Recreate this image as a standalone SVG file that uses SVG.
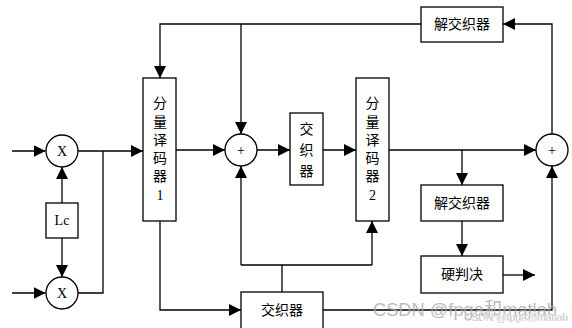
<svg xmlns="http://www.w3.org/2000/svg" width="572" height="328" viewBox="0 0 572 328">
<style>
.b{fill:#fff;stroke:#000;stroke-width:1.3}
.l{fill:none;stroke:#000;stroke-width:1.3}
.a{marker-end:url(#ah)}
.t{font-family:"Liberation Serif","Noto Sans CJK SC",serif;font-size:14px;fill:#000;text-anchor:middle;dominant-baseline:central}
.wm{font-family:"Liberation Sans","Noto Sans CJK SC",sans-serif;fill:#aaa}
</style>
<defs>
<marker id="ah" markerUnits="userSpaceOnUse" markerWidth="12" markerHeight="12" refX="12" refY="6" orient="auto">
<path d="M0,0 L12,6 L0,12 z" fill="#000"/>
</marker>
</defs>
<rect width="572" height="328" fill="#fff"/>
<g id="connectors">
<line class="l a" x1="12" y1="151" x2="45.5" y2="151"/>
<line class="l a" x1="12" y1="293" x2="45.5" y2="293"/>
<line class="l a" x1="62" y1="203" x2="62" y2="167"/>
<line class="l a" x1="62" y1="238" x2="62" y2="277"/>
<line class="l a" x1="78" y1="151" x2="143" y2="151"/>
<polyline class="l" points="78,293 103,293 103,151"/>
<line class="l a" x1="176" y1="150" x2="225" y2="150"/>
<line class="l a" x1="257" y1="150" x2="290" y2="150"/>
<line class="l a" x1="323" y1="150" x2="356" y2="150"/>
<line class="l a" x1="389" y1="150" x2="536" y2="150"/>
<line class="l a" x1="462" y1="150" x2="462" y2="185"/>
<line class="l a" x1="462" y1="221" x2="462" y2="256"/>
<line class="l a" x1="503" y1="275" x2="535" y2="275"/>
<polyline class="l a" points="552,134 552,24 503,24"/>
<polyline class="l a" points="421,24 160,24 160,78"/>
<line class="l a" x1="241" y1="24" x2="241" y2="134"/>
<polyline class="l a" points="160,221 160,310 241,310"/>
<line class="l" x1="282" y1="292" x2="282" y2="265"/>
<line class="l" x1="241" y1="265" x2="372" y2="265"/>
<line class="l a" x1="241" y1="265" x2="241" y2="166"/>
<line class="l a" x1="372" y1="265" x2="372" y2="221"/>
<polyline class="l a" points="323,310 552,310 552,166"/>
</g>
<g id="mul1"><circle class="b" cx="62" cy="151" r="16"/><text class="t" x="62" y="151" font-size="12">X</text></g>
<g id="mul2"><circle class="b" cx="62" cy="293" r="16"/><text class="t" x="62" y="293" font-size="12">X</text></g>
<g id="lc"><rect class="b" x="46" y="203" width="32" height="35"/><text class="t" x="62" y="220.5">Lc</text></g>
<g id="dec1"><rect class="b" x="143" y="78" width="33" height="143"/>
<text class="t" x="160" y="103.5">分</text><text class="t" x="160" y="122">量</text><text class="t" x="160" y="140">译</text><text class="t" x="160" y="158">码</text><text class="t" x="160" y="176">器</text><text class="t" x="160" y="195">1</text></g>
<g id="sum1"><circle class="b" cx="241" cy="150" r="16"/><text class="t" x="241" y="150">+</text></g>
<g id="intl1"><rect class="b" x="290" y="113" width="33" height="72"/>
<text class="t" x="306.5" y="129">交</text><text class="t" x="306.5" y="150">织</text><text class="t" x="306.5" y="171">器</text></g>
<g id="dec2"><rect class="b" x="356" y="78" width="33" height="143"/>
<text class="t" x="372.5" y="103.5">分</text><text class="t" x="372.5" y="122">量</text><text class="t" x="372.5" y="140">译</text><text class="t" x="372.5" y="158">码</text><text class="t" x="372.5" y="176">器</text><text class="t" x="372.5" y="195">2</text></g>
<g id="deint1"><rect class="b" x="421" y="7" width="82" height="35"/><text class="t" x="462" y="24.5">解交织器</text></g>
<g id="sum2"><circle class="b" cx="552" cy="150" r="16"/><text class="t" x="552" y="150">+</text></g>
<g id="deint2"><rect class="b" x="421" y="185" width="82" height="36"/><text class="t" x="462" y="203">解交织器</text></g>
<g id="hard"><rect class="b" x="421" y="256" width="82" height="37"/><text class="t" x="462" y="274.5">硬判决</text></g>
<g id="intl2"><rect class="b" x="241" y="292" width="82" height="40"/><text class="t" x="282" y="310">交织器</text></g>
<text class="wm" x="373" y="316" font-size="19" textLength="184" lengthAdjust="spacingAndGlyphs" fill-opacity="0.8">CSDN @fpga和matlab</text>
<text class="wm" x="464" y="321" font-size="10" textLength="104" lengthAdjust="spacingAndGlyphs" style="fill:#777;stroke:#fff;stroke-width:0.4">CSDN @fpga和matlab</text>
</svg>
